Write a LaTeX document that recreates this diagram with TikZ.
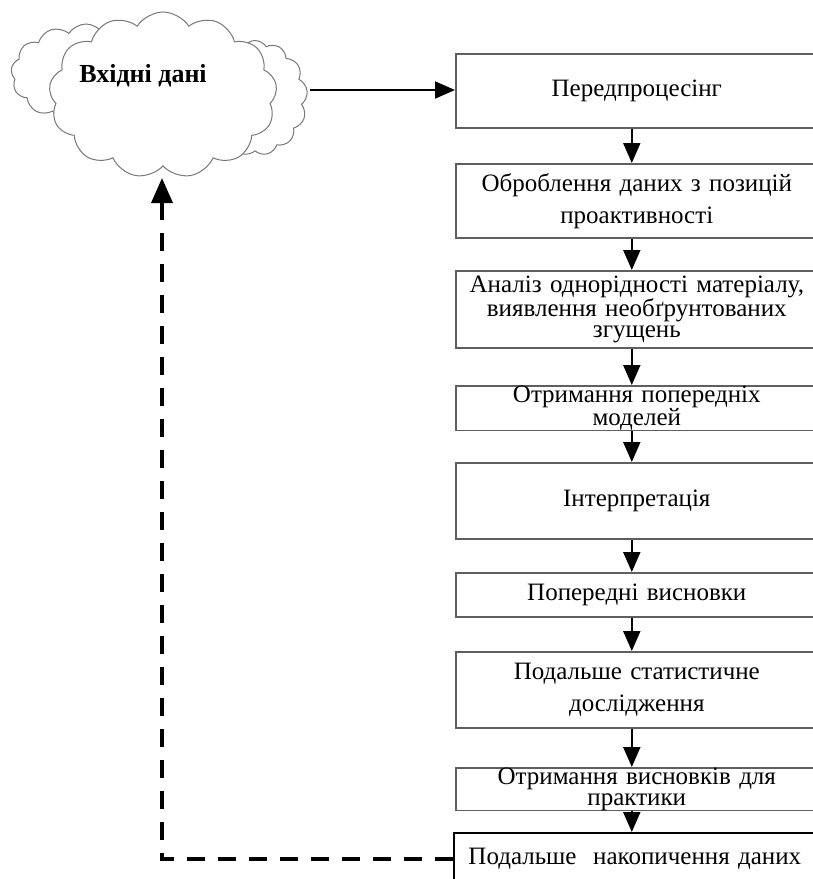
\documentclass[tikz,border=0pt]{standalone}
\usepackage{fontspec}
\setmainfont{Liberation Serif}
\usepackage{tikz}
\usetikzlibrary{shapes.symbols, arrows.meta, positioning}
\definecolor{boxgray}{RGB}{95,95,95}
\definecolor{cloudgray}{RGB}{120,120,120}
\tikzset{
  stepbox/.style={rectangle, draw=boxgray, fill=white, anchor=north west,
    minimum width=362pt, text width=340pt, align=center,
    line width=1.6pt, inner sep=0pt},
  tight/.style={font=\fontsize{25}{21}\selectfont},
  loose/.style={font=\fontsize{25}{32}\selectfont},
  puff/.style={cloud, cloud puffs=13, cloud puff arc=115, draw=cloudgray,
    fill=white, line width=1pt, inner sep=0pt},
  arrow/.style={-{Triangle[length=20pt,width=17pt]}, line width=2pt, black},
  backarrow/.style={-{Triangle[length=25pt,width=21pt]}, line width=3.5pt,
    dash pattern=on 18pt off 13pt, black}
}
\begin{document}
\begin{tikzpicture}[x=1pt, y=-1pt]
  \useasboundingbox (0,0) rectangle (813,879);
  \clip (0,0) rectangle (813,879);

  % Cloud
  \node[puff, minimum width=150pt, minimum height=100pt] (cloudL) at (86,74) {};
  \node[puff, minimum width=105pt, minimum height=115pt] (cloudR) at (255,98) {};
  \node[puff, minimum width=228pt, minimum height=166pt] (cloud) at (163,95) {};
  \node[font=\fontsize{26}{28}\selectfont\bfseries] (input) at (143,76) {Вхідні дані};
  \coordinate (cloudout) at (310,90);
  \coordinate (cloudin) at (162,178);

  % Steps
  \node[stepbox, loose, minimum height=74pt] (pre) at (455,53) {Передпроцесінг};
  \node[stepbox, loose, minimum height=74pt] (proact) at (455,163)
    {Оброблення даних з позицій\\проактивності};
  \node[stepbox, tight, minimum height=77pt] (homog) at (455,270)
    {Аналіз однорідності матеріалу,\\виявлення необґрунтованих\\згущень};
  \node[stepbox, tight, minimum height=42pt] (models) at (455,385)
    {Отримання попередніх\\моделей};
  \node[stepbox, loose, minimum height=76pt] (interp) at (455,462) {Інтерпретація};
  \node[stepbox, loose, minimum height=44pt] (prelim) at (455,572)
    {Попередні висновки};
  \node[stepbox, loose, minimum height=76pt] (stat) at (455,651)
    {Подальше статистичне\\дослідження};
  \node[stepbox, tight, minimum height=38pt] (practice) at (455,767)
    {Отримання висновків для\\практики};
  \node[stepbox, loose, draw=black, minimum height=52pt] (accum) at (453,832)
    {Подальше\ \ накопичення даних};

  % Paths
  \draw[arrow] (cloudout) -- (cloudout -| pre.west);
  \draw[arrow] ([xshift=-5pt]pre.south) -- ([xshift=-5pt]proact.north);
  \draw[arrow] ([xshift=-5pt]proact.south) -- ([xshift=-5pt]homog.north);
  \draw[arrow] ([xshift=-5pt]homog.south) -- ([xshift=-5pt]models.north);
  \draw[arrow] ([xshift=-5pt]models.south) -- ([xshift=-5pt]interp.north);
  \draw[arrow] ([xshift=-5pt]interp.south) -- ([xshift=-5pt]prelim.north);
  \draw[arrow] ([xshift=-5pt]prelim.south) -- ([xshift=-5pt]stat.north);
  \draw[arrow] ([xshift=-5pt]stat.south) -- ([xshift=-5pt]practice.north);
  \draw[arrow] ([xshift=-5pt]practice.south) -- ([xshift=-3pt]accum.north);
  \draw[backarrow] (accum.west) -| (cloudin);
\end{tikzpicture}
\end{document}
